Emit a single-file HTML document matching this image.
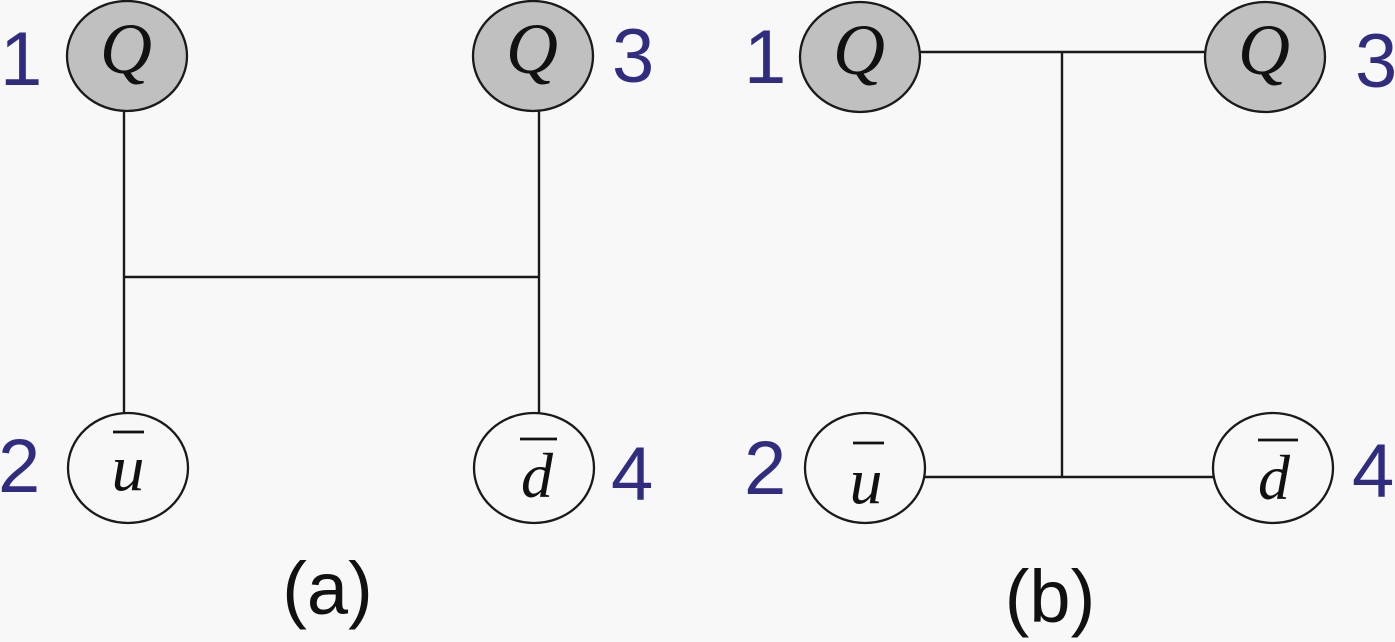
<!DOCTYPE html>
<html>
<head>
<meta charset="utf-8">
<style>
html,body{margin:0;padding:0;background:#f8f8f8;}
svg{display:block;}
.lab{font-family:"Liberation Sans",Arial,sans-serif;font-size:76px;fill:#302c80;}
.cap{font-family:"Liberation Sans",Arial,sans-serif;font-size:74px;fill:#111;}
.it{font-family:"Liberation Serif","Times New Roman",serif;font-style:italic;fill:#111;}
</style>
</head>
<body>
<svg width="1395" height="642" viewBox="0 0 1395 642" xmlns="http://www.w3.org/2000/svg">
<rect width="1395" height="642" fill="#f8f8f8"/>
<g stroke="#1a1a1a" stroke-width="2.4" fill="none">
  <line x1="124" y1="111" x2="124" y2="413"/>
  <line x1="539" y1="111" x2="539" y2="413"/>
  <line x1="124" y1="277" x2="539" y2="277"/>
  <line x1="919" y1="52" x2="1205" y2="52"/>
  <line x1="1062" y1="52" x2="1062" y2="477"/>
  <line x1="925" y1="477" x2="1213" y2="477"/>
</g>
<g stroke="#1a1a1a" stroke-width="2.3">
  <ellipse cx="127" cy="56" rx="60" ry="55" fill="#c0c0c0"/>
  <ellipse cx="533" cy="56" rx="60" ry="55" fill="#c0c0c0"/>
  <ellipse cx="128" cy="468" rx="60" ry="55" fill="#f8f8f8"/>
  <ellipse cx="534" cy="468" rx="60" ry="55" fill="#f8f8f8"/>
  <ellipse cx="860" cy="57" rx="60" ry="55" fill="#c0c0c0"/>
  <ellipse cx="1265" cy="57" rx="60" ry="55" fill="#c0c0c0"/>
  <ellipse cx="865" cy="468" rx="60" ry="55" fill="#f8f8f8"/>
  <ellipse cx="1273" cy="468" rx="60" ry="55" fill="#f8f8f8"/>
</g>
<text class="it" x="126" y="73" font-size="72" text-anchor="middle">Q</text>
<text class="it" x="532" y="73" font-size="72" text-anchor="middle">Q</text>
<text class="it" x="859" y="74" font-size="72" text-anchor="middle">Q</text>
<text class="it" x="1264" y="74" font-size="72" text-anchor="middle">Q</text>
<text class="it" x="128" y="490" font-size="66" text-anchor="middle">u</text>
<text class="it" x="537" y="497" font-size="64" text-anchor="middle">d</text>
<text class="it" x="866" y="503" font-size="66" text-anchor="middle">u</text>
<text class="it" x="1274" y="499" font-size="64" text-anchor="middle">d</text>
<g stroke="#111" stroke-width="2.8">
  <line x1="113" y1="432" x2="144" y2="432"/>
  <line x1="520" y1="439" x2="557" y2="439"/>
  <line x1="853" y1="443" x2="884" y2="443"/>
  <line x1="1258" y1="440" x2="1298" y2="440"/>
</g>
<text class="lab" x="0" y="85">1</text>
<text class="lab" x="612" y="82">3</text>
<text class="lab" x="-2" y="492">2</text>
<text class="lab" x="611" y="500">4</text>
<text class="lab" x="744" y="83">1</text>
<text class="lab" x="1355" y="87">3</text>
<text class="lab" x="744" y="494">2</text>
<text class="lab" x="1352" y="497">4</text>
<text class="cap" x="327.5" y="614" text-anchor="middle">(a)</text>
<text class="cap" x="1050" y="622" text-anchor="middle">(b)</text>
</svg>
</body>
</html>
